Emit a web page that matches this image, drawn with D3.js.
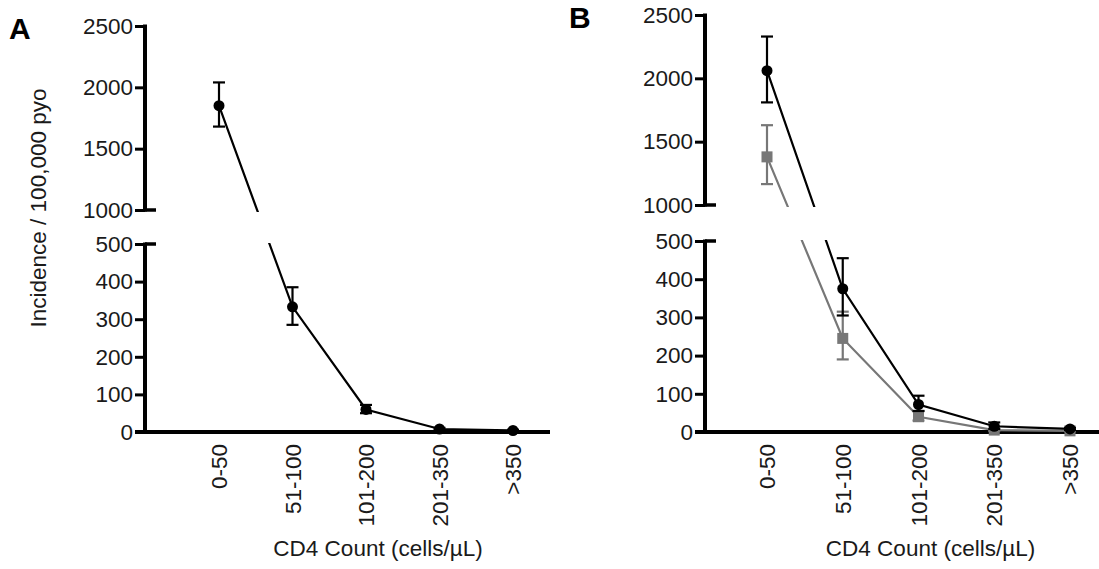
<!DOCTYPE html>
<html><head><meta charset="utf-8">
<script src="https://cdn.jsdelivr.net/npm/d3@7"></script>
<style>body{margin:0;background:#fff}text{font-family:"Liberation Sans",Arial,sans-serif}</style>
</head><body><svg id="c" width="1099" height="569"></svg>
<script>
const categories = ["0-50", "51-100", "101-200", "201-350", ">350"];
const lowTicks = [0, 100, 200, 300, 400, 500];
const highTicks = [1000, 1500, 2000, 2500];
// panel A
const aMean = [1850, 333, 60, 8, 4];
const aLow = [1680, 285, 50, 5, 2];
const aHigh = [2040, 385, 72, 11, 6];
// panel B, black circles
const bMean = [2060, 375, 72, 15, 8];
const bLow = [1810, 305, 55, 8, 5];
const bHigh = [2330, 455, 95, 25, 11];
// panel B, grey squares
const gMean = [1380, 245, 40, 5, 3];
const gLow = [1165, 190, 30, 3, 2];
const gHigh = [1630, 315, 55, 8, 4];

const svg = d3.select("#c");
const FS = 22.5;

function panel(id, o) {
  const g = svg.append("g");
  const y = d3.scaleLinear().domain([0, 500, 1000, 2500]).range([o.y0, o.y500, o.y1000, o.yTop]);
  const x = d3.scalePoint().domain(categories).range([o.xFirst, o.xLast]);

  // clip to hide the break region
  const clipId = "clip" + id;
  const cp = svg.append("clipPath").attr("id", clipId);
  cp.append("rect").attr("x", o.ax).attr("y", 0).attr("width", o.xEnd - o.ax).attr("height", o.y1000 + 2);
  cp.append("rect").attr("x", o.ax).attr("y", o.y500 - 1).attr("width", o.xEnd - o.ax).attr("height", o.y0 - o.y500 + 1);

  // axes
  const axLow = d3.axisLeft(d3.scaleLinear().domain([0, 500]).range([o.y0, o.y500])).tickValues(lowTicks).tickSize(10).tickPadding(2).tickFormat(d3.format("d"));
  const axHigh = d3.axisLeft(d3.scaleLinear().domain([1000, 2500]).range([o.y1000, o.yTop])).tickValues(highTicks).tickSize(10).tickPadding(2).tickFormat(d3.format("d"));
  [axLow, axHigh].forEach(a => {
    const ag = g.append("g").attr("transform", `translate(${o.ax},0)`).call(a);
    ag.select(".domain").remove();
    ag.selectAll(".tick line").attr("stroke-width", 3);
    ag.selectAll(".tick text").attr("font-size", FS).attr("fill", "#1a1a1a");
  });
  g.append("line").attr("x1", o.ax).attr("x2", o.ax).attr("y1", o.y0 + 2).attr("y2", o.y500 - 1.5).attr("stroke", "#000").attr("stroke-width", 4);
  g.append("line").attr("x1", o.ax).attr("x2", o.ax).attr("y1", o.y1000 + 1.5).attr("y2", o.yTop - 1.5).attr("stroke", "#000").attr("stroke-width", 4);
  // break stubs
  [o.y500, o.y1000].forEach(v => g.append("line").attr("x1", o.ax).attr("x2", o.ax + 11).attr("y1", v).attr("y2", v).attr("stroke", "#000").attr("stroke-width", 3.5));
  // x axis
  g.append("line").attr("x1", o.ax - 10).attr("x2", o.xEnd).attr("y1", o.y0).attr("y2", o.y0).attr("stroke", "#000").attr("stroke-width", 4);
  categories.forEach(c => {
    g.append("text").attr("transform", `translate(${x(c) + 8},${o.y0 + 12}) rotate(-90)`)
      .attr("text-anchor", "end").attr("font-size", FS).attr("fill", "#1a1a1a").text(c);
  });
  g.append("text").attr("x", (o.xFirst + o.xLast) / 2 + 12).attr("y", 556).attr("text-anchor", "middle")
    .attr("font-size", FS).attr("fill", "#1a1a1a").text("CD4 Count (cells/µL)");
  g.append("text").attr("x", o.ax - 136).attr("y", o.yTop + 13).attr("font-size", 30).attr("font-weight", "bold").text(id);

  const line = d3.line().x((d, i) => x(categories[i])).y(d => y(d));
  o.series.forEach(s => {
    g.append("path").datum(s.mean).attr("clip-path", `url(#${clipId})`).attr("fill", "none")
      .attr("stroke", s.color).attr("stroke-width", 2.2).attr("d", line);
    s.mean.forEach((m, i) => {
      const cx = x(categories[i]);
      g.append("line").attr("x1", cx).attr("x2", cx).attr("y1", y(s.lo[i])).attr("y2", y(s.hi[i])).attr("stroke", s.color).attr("stroke-width", 2.2);
      [s.lo[i], s.hi[i]].forEach(v => g.append("line").attr("x1", cx - 6).attr("x2", cx + 6).attr("y1", y(v)).attr("y2", y(v)).attr("stroke", s.color).attr("stroke-width", 2.2));
      if (s.square) g.append("rect").attr("x", cx - 5.5).attr("y", y(m) - 5.5).attr("width", 11).attr("height", 11).attr("fill", s.color);
      else g.append("circle").attr("cx", cx).attr("cy", y(m)).attr("r", 5.5).attr("fill", s.color);
    });
  });
  return g;
}

const gA = panel("A", {ax: 145, yTop: 26, y1000: 210, y500: 244, y0: 432, xFirst: 219, xLast: 513, xEnd: 550,
  series: [{mean: aMean, lo: aLow, hi: aHigh, color: "#000"}]});
gA.append("text").attr("transform", "translate(46,208) rotate(-90)").attr("text-anchor", "middle")
  .attr("font-size", FS).attr("fill", "#1a1a1a").text("Incidence / 100,000 pyo");

panel("B", {ax: 705, yTop: 15, y1000: 205, y500: 241, y0: 432, xFirst: 767, xLast: 1070, xEnd: 1099,
  series: [{mean: gMean, lo: gLow, hi: gHigh, color: "#777", square: true},
           {mean: bMean, lo: bLow, hi: bHigh, color: "#000"}]});
</script></body></html>
